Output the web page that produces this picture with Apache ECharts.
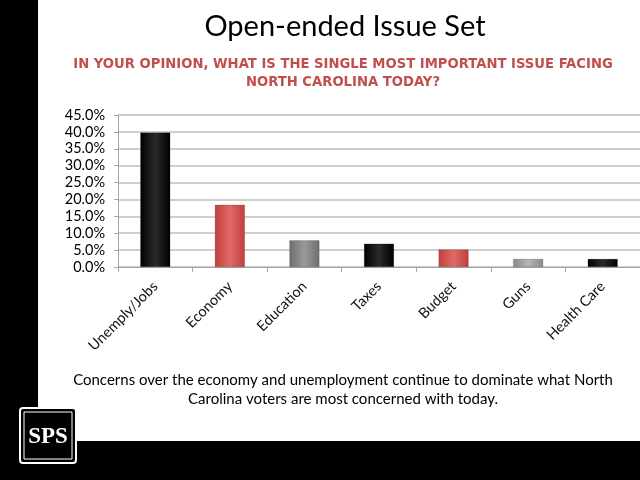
<!DOCTYPE html>
<html><head><meta charset="utf-8">
<script src="https://cdn.jsdelivr.net/npm/echarts@6/dist/echarts.min.js"></script>
<style>html,body{margin:0;padding:0;background:#fff}#c{width:640px;height:480px}</style>
</head><body><div id="c"></div>
<script>
const categories = ['Unemply/Jobs','Economy','Education','Taxes','Budget','Guns','Health Care'];
const values = [39.8, 18.4, 7.9, 6.9, 5.2, 2.4, 2.4];
const barKinds = ['black','red','gray','black','red','lightgray','black'];
const yTicks = [0,5,10,15,20,25,30,35,40,45];

const palettes = {
  black: ['#000000','#2a2a2a','#000000'],
  red: ['#c0403c','#e06a66','#c0403c'],
  gray: ['#6e6e6e','#9a9a9a','#6e6e6e'],
  lightgray: ['#8a8a8a','#b5b5b5','#8a8a8a']
};
function grad(k){
  const p = palettes[k];
  return new echarts.graphic.LinearGradient(0,0,1,0,[
    {offset:0,color:p[0]},{offset:0.5,color:p[1]},{offset:1,color:p[2]}]);
}
const chart = echarts.init(document.getElementById('c'));
const font = 'Lato, "Open Sans", sans-serif';
chart.setOption({
  animation:false,
  backgroundColor:'#fff',
  title:[{
    text:'Open-ended Issue Set', left:340, top:7, textAlign:'center',
    textStyle:{fontFamily:font,fontWeight:'normal',fontSize:29,color:'#000'}
  },{
    text:'IN YOUR OPINION, WHAT IS THE SINGLE MOST IMPORTANT ISSUE FACING\nNORTH CAROLINA TODAY?',
    left:338, top:51, textAlign:'center',
    textStyle:{fontFamily:'"DejaVu Sans", Verdana, sans-serif',fontWeight:'bold',fontSize:13.2,color:'#c0504d',lineHeight:18,align:'center'}
  },{
    text:'Concerns over the economy and unemployment continue to dominate what North\nCarolina voters are most concerned with today.',
    left:338, top:366, textAlign:'center',
    textStyle:{fontFamily:font,fontWeight:'normal',fontSize:15,color:'#000',lineHeight:19,align:'center'}
  }],
  grid:{left:118,right:0,top:115,bottom:213,containLabel:false},
  xAxis:{
    type:'category', data:categories,
    axisLine:{lineStyle:{color:'#a6a6a6'}},
    axisTick:{show:true,length:5,lineStyle:{color:'#a6a6a6'}},
    axisLabel:{rotate:45,interval:0,margin:17,fontFamily:font,fontSize:14.5,color:'#111'}
  },
  yAxis:{
    type:'value', min:0, max:45, interval:5,
    axisLine:{show:true,lineStyle:{color:'#a6a6a6'}},
    axisTick:{show:true,length:4,lineStyle:{color:'#a6a6a6'}},
    splitLine:{lineStyle:{color:'#bfbfbf',width:1.5}},
    axisLabel:{fontFamily:font,fontSize:14.5,color:'#000',margin:13,
      formatter:v=>yTicks.includes(v)?v.toFixed(1)+'%':''}
  },
  series:[{
    type:'bar', barWidth:30,
    data:values.map((v,i)=>({value:v,itemStyle:{color:grad(barKinds[i]),borderColor:'rgba(0,0,0,0.35)',borderWidth:0.5}}))
  }],
  graphic:[
    {type:'rect',shape:{x:0,y:0,width:38,height:480},style:{fill:'#000'},z:100},
    {type:'rect',shape:{x:0,y:441,width:640,height:39},style:{fill:'#000'},z:100},
    {type:'rect',shape:{x:20,y:408,width:56,height:55,r:3},style:{fill:'#000',stroke:'#fff',lineWidth:2},z:101},
    {type:'rect',shape:{x:24,y:412,width:48,height:47},style:{fill:'#000',stroke:'#fff',lineWidth:1},z:101},
    {type:'text',x:48,y:437,style:{text:'SPS',fill:'#fff',font:'bold 23px "Liberation Serif", "DejaVu Serif", serif',textAlign:'center',textVerticalAlign:'middle'},z:102}
  ]
});
</script></body></html>
